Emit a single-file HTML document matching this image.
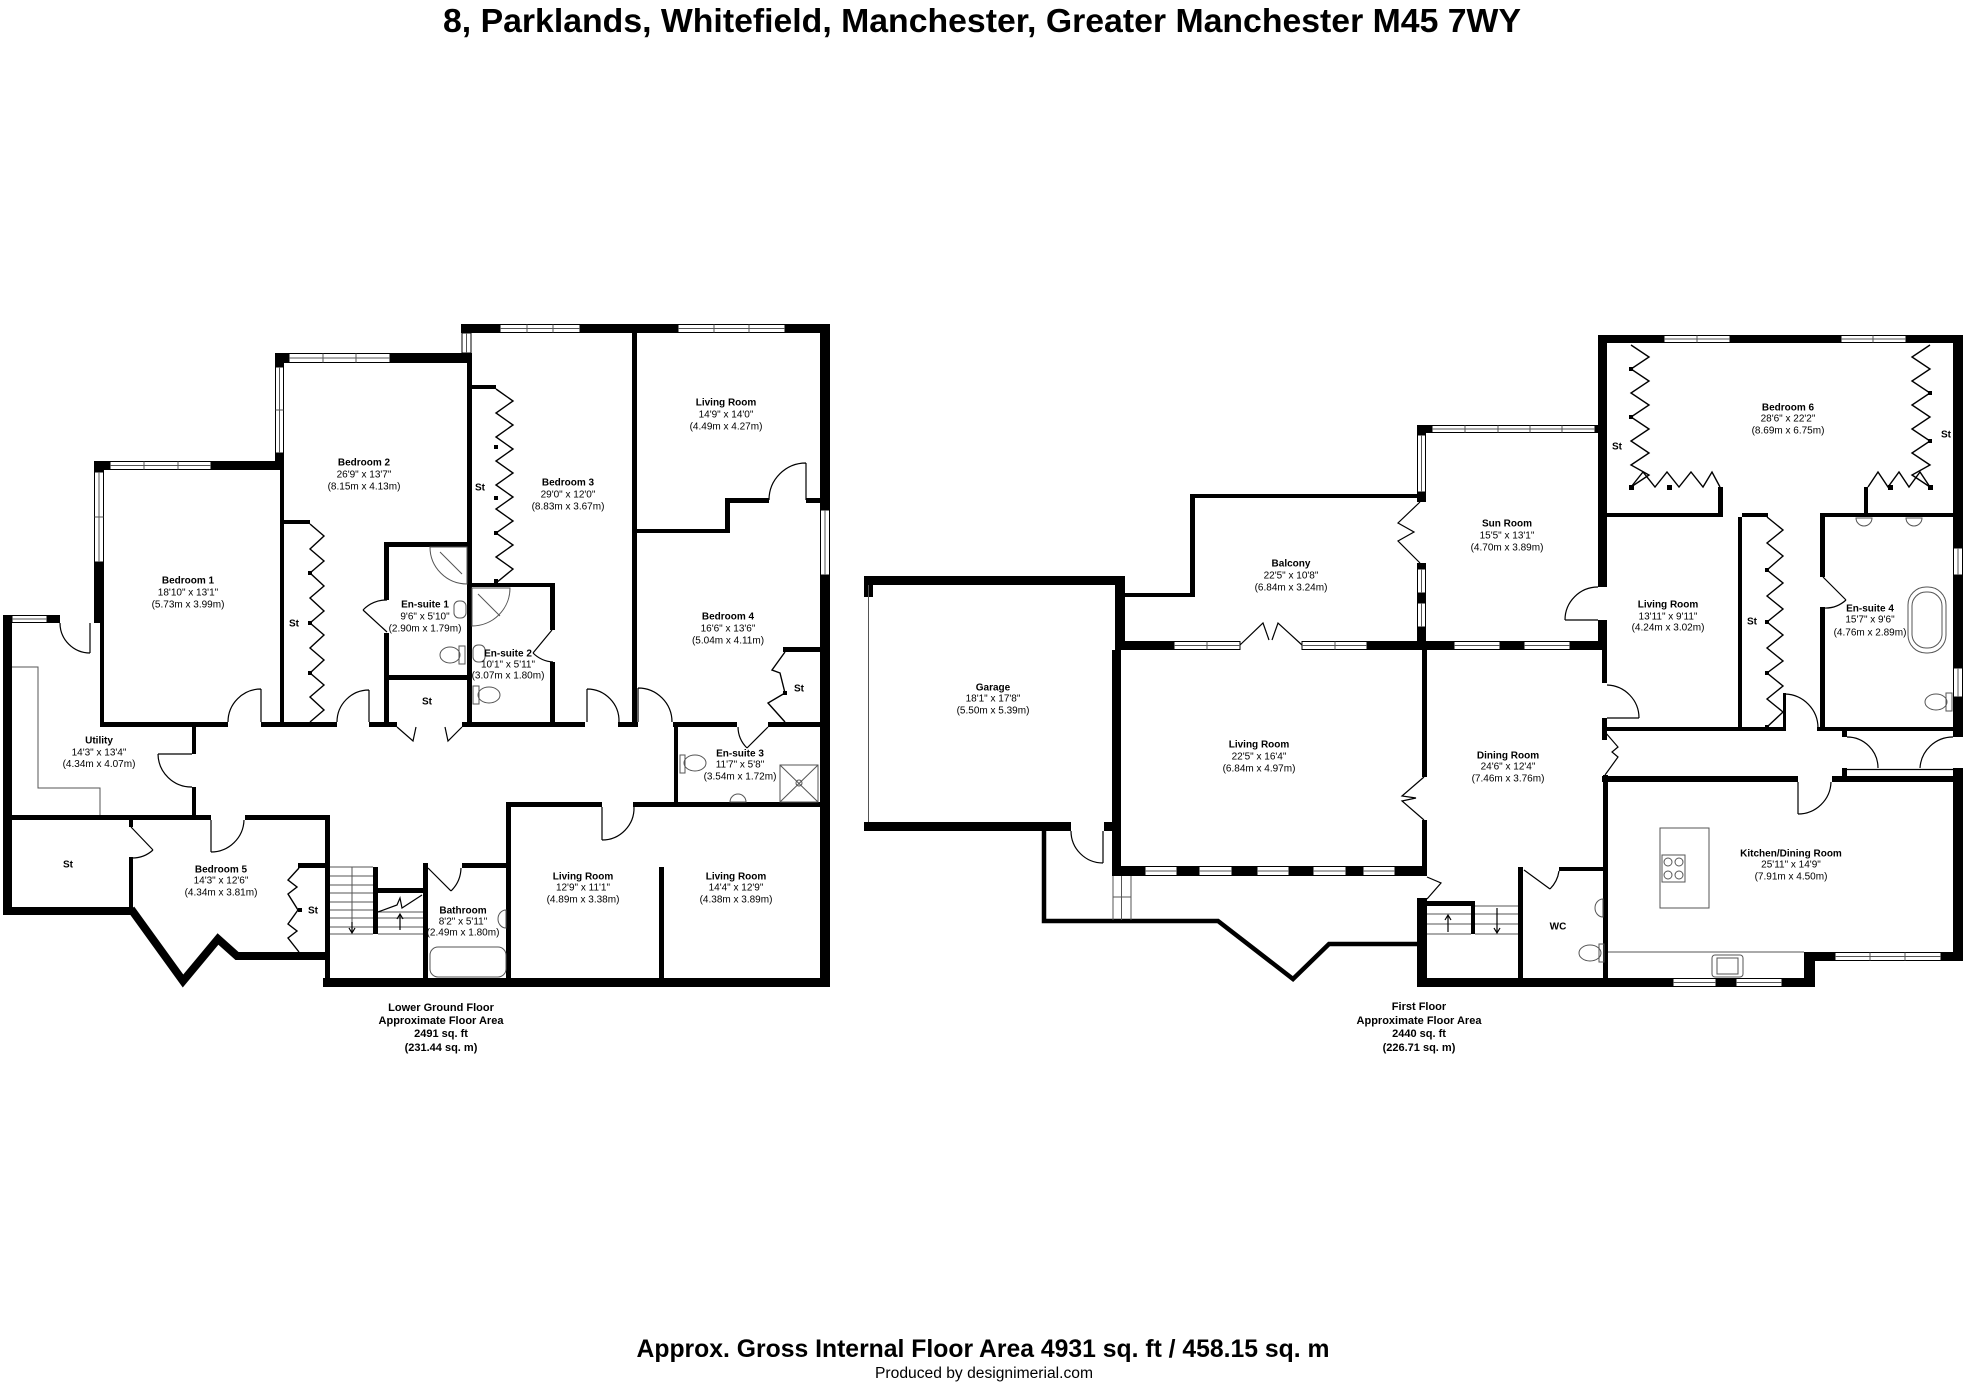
<!DOCTYPE html>
<html><head><meta charset="utf-8"><style>
html,body{margin:0;padding:0;background:#fff;}
svg{display:block}
.k{fill:#000}
.w{fill:#fff;stroke:#000;stroke-width:1}
.t{fill:none;stroke:#000;stroke-width:1.2}
.g{fill:none;stroke:#555;stroke-width:1}
.p{fill:none;stroke:#000;stroke-width:1.4}
text{font-family:"Liberation Sans",Arial,sans-serif;fill:#000}
.n{font-weight:bold;font-size:10px;text-anchor:middle}
.d{font-size:10px;text-anchor:middle}
.f{font-weight:bold;font-size:11px;text-anchor:middle}
</style></head><body>
<svg width="1968" height="1384" viewBox="0 0 1968 1384" xmlns="http://www.w3.org/2000/svg">
<rect x="0" y="0" width="1968" height="1384" fill="#fff"/>

<!-- Title -->
<text x="982" y="32" font-weight="bold" font-size="33.5" text-anchor="middle" textLength="1078" lengthAdjust="spacingAndGlyphs">8, Parklands, Whitefield, Manchester, Greater Manchester M45 7WY</text>

<!-- ============ LOWER GROUND FLOOR ============ -->
<g>
<rect class="k" x="461" y="324" width="369" height="9"/>
<rect class="k" x="275" y="353" width="197" height="10"/>
<rect class="k" x="275" y="353" width="9" height="117"/>
<rect class="k" x="94" y="461" width="190" height="9"/>
<rect class="k" x="94" y="461" width="10" height="162"/>
<rect class="k" x="100" y="623" width="4" height="104"/>
<rect class="k" x="3" y="615" width="57" height="8"/>
<rect class="k" x="3" y="615" width="9" height="300"/>
<rect class="k" x="3" y="815" width="208" height="5"/>
<rect class="k" x="245" y="815" width="85" height="5"/>
<rect class="k" x="192" y="722" width="4" height="32"/>
<rect class="k" x="192" y="787" width="4" height="28"/>
<rect class="k" x="100" y="722" width="128" height="5"/>
<rect class="k" x="261" y="722" width="76" height="5"/>
<rect class="k" x="369" y="722" width="28" height="5"/>
<rect class="k" x="462" y="722" width="123" height="5"/>
<rect class="k" x="618" y="722" width="20" height="5"/>
<rect class="k" x="673" y="722" width="64" height="5"/>
<rect class="k" x="768" y="722" width="54" height="5"/>
<rect class="k" x="280" y="470" width="4" height="252"/>
<rect class="k" x="284" y="520" width="26" height="4"/>
<rect class="k" x="384" y="542" width="5" height="58"/>
<rect class="k" x="384" y="633" width="5" height="89"/>
<rect class="k" x="384" y="542" width="86" height="5"/>
<rect class="k" x="388" y="675" width="79" height="5"/>
<rect class="k" x="467" y="363" width="5" height="359"/>
<rect class="k" x="472" y="385" width="24" height="4"/>
<rect class="k" x="470" y="583" width="85" height="4"/>
<rect class="k" x="550" y="583" width="5" height="47"/>
<rect class="k" x="550" y="662" width="5" height="60"/>
<rect class="k" x="632" y="333" width="5" height="389"/>
<rect class="k" x="632" y="529" width="98" height="4"/>
<rect class="k" x="725" y="498" width="5" height="35"/>
<rect class="k" x="725" y="498" width="44" height="5"/>
<rect class="k" x="806" y="498" width="16" height="5"/>
<rect class="k" x="820" y="324" width="10" height="663"/>
<rect class="k" x="783" y="647" width="39" height="5"/>
<rect class="k" x="674" y="722" width="4" height="81"/>
<rect class="k" x="506" y="802" width="96" height="5"/>
<rect class="k" x="633" y="802" width="189" height="5"/>
<rect class="k" x="506" y="802" width="5" height="185"/>
<rect class="k" x="659" y="867" width="5" height="113"/>
<rect class="k" x="323" y="978" width="507" height="9"/>
<rect class="k" x="423" y="863" width="5" height="120"/>
<rect class="k" x="462" y="863" width="45" height="5"/>
<rect class="k" x="325" y="815" width="5" height="172"/>
<rect class="k" x="373" y="867" width="5" height="67"/>
<rect class="k" x="378" y="888" width="45" height="5"/>
<rect class="k" x="298" y="863" width="27" height="5"/>
<rect class="k" x="3" y="907" width="130" height="8"/>
<rect class="k" x="129" y="820" width="4" height="7"/>
<rect class="k" x="129" y="857" width="4" height="50"/>
<polyline points="131,909 183,981 218,939 237,956 328,956" fill="none" stroke="#000" stroke-width="8" stroke-linejoin="miter"/>

<rect class="w" x="500" y="324.5" width="80" height="8"/><path class="g" d="M500 328.5H580M527 324.5V332.5M553 324.5V332.5"/>
<rect class="w" x="678" y="324.5" width="107" height="8"/><path class="g" d="M678 328.5H785M714 324.5V332.5M749 324.5V332.5"/>
<rect class="w" x="289" y="353.5" width="101" height="9"/><path class="g" d="M289 358H390M323 353.5V362.5M356 353.5V362.5"/>
<rect class="w" x="110" y="461.5" width="101" height="8"/><path class="g" d="M110 465.5H211M144 461.5V469.5M178 461.5V469.5"/>
<rect class="w" x="12" y="615.5" width="35" height="7"/><path class="g" d="M12 619H47"/>
<rect class="w" x="462" y="333" width="9" height="20"/><path class="g" d="M466.5 333V353"/>
<rect class="w" x="275.5" y="367" width="8" height="86"/><path class="g" d="M279.5 367V453M275.5 410H283.5"/>
<rect class="w" x="94.5" y="472" width="9" height="90"/><path class="g" d="M99 472V562M94.5 517H103.5"/>
<rect class="w" x="820.5" y="510" width="9" height="65"/><path class="g" d="M825 510V575"/>

<path class="t" d="M90 623V653M60 623A30 30 0 0 0 90 653"/>
<path class="t" d="M192 754H158M158 754A33.5 33.5 0 0 0 192 787"/>
<path class="t" d="M211 820V852M211 852A33 33 0 0 0 244 820"/>
<path class="t" d="M131 827L153 850M153 850A31 31 0 0 1 131 858"/>
<path class="t" d="M261 722V689M261 689A33 33 0 0 0 228 722"/>
<path class="t" d="M369 722V690M369 690A32 32 0 0 0 337 722"/>
<path class="t" d="M587 722V689M587 689A32 32 0 0 1 619 722"/>
<path class="t" d="M638 722V688M638 688A34 34 0 0 1 672 722"/>
<path class="t" d="M768 727L747 748M747 748A30 30 0 0 1 738 727"/>
<path class="t" d="M602 807V840M602 840A32 32 0 0 0 634 807"/>
<path class="t" d="M428 868L451 891M451 891A33 33 0 0 0 461 868"/>
<path class="t" d="M387 632L363 610M363 610A32 32 0 0 1 387 600"/>
<path class="t" d="M552 630L533 653M533 653A31 31 0 0 0 553 662"/>
<path class="t" d="M806 500V463M806 463A37 37 0 0 0 769 500"/>
<path class="t" d="M397 727L413 741L416 727M445 727L448 741L462 727"/>

<polyline class="p" points="496,389 513,401 496,413 513,425 496,437 513,449 496,461 513,473 496,485 513,497 496,509 513,521 496,533 513,545 496,557 513,569 496,583"/>
<polyline class="p" points="310,524 324,536 310,549 324,561 310,573 324,586 310,598 324,611 310,623 324,635 310,648 324,660 310,673 324,685 310,697 324,710 310,722"/>
<polyline class="p" points="785,652 772,670 780,673 785,693 768,703 785,722"/>
<polyline class="p" points="299,868 288,880 297,887 288,894 298,910 288,924 297,931 288,938 299,952"/>
<rect class="k" x="494" y="445" width="4" height="4"/><rect class="k" x="494" y="496" width="4" height="4"/><rect class="k" x="494" y="531" width="4" height="4"/><rect class="k" x="494" y="579" width="4" height="4"/>
<rect class="k" x="308" y="571" width="4" height="4"/><rect class="k" x="308" y="621" width="4" height="4"/><rect class="k" x="308" y="671" width="4" height="4"/>
<rect class="k" x="783" y="691" width="4" height="4"/><rect class="k" x="298" y="908" width="4" height="4"/>

<path class="g" d="M330 867H373M330 876H373M330 885H373M330 893H373M330 902H373M330 910H373M330 918H373M330 927H373M330 934H373M352 867V934M378 912H423M378 918H423M378 927H423M378 934H423"/>
<path class="t" d="M378 912L397 905L400 898L402 908L422 895"/>
<path class="t" d="M352 922V932M349 928L352 933L355 928M400 930V915M397 919L400 914L403 919"/>

<path class="g" d="M430 547A37 37 0 0 0 467 584V547ZM440 552L462 574"/>
<path class="g" d="M510 588A38 38 0 0 1 472 626V588ZM478 594L500 616"/>
<ellipse class="g" cx="450" cy="655" rx="10" ry="8"/><rect class="g" x="459" y="646" width="6" height="18"/>
<rect class="g" x="454" y="601" width="12" height="17" rx="5"/>
<rect class="g" x="473" y="645" width="12" height="17" rx="5"/>
<ellipse class="g" cx="489" cy="695" rx="11" ry="8"/><rect class="g" x="473" y="686" width="6" height="18"/>
<ellipse class="g" cx="695" cy="763" rx="11" ry="8"/><rect class="g" x="680" y="755" width="5" height="18"/>
<rect class="g" x="780" y="765" width="38" height="37"/><path class="g" d="M780 765L818 802M818 765L780 802"/><circle class="g" cx="799" cy="783" r="3"/>
<path class="g" d="M730 802A8 8 0 0 1 746 802Z"/>
<rect class="g" x="430" y="947" width="76" height="30" rx="8"/>
<path class="g" d="M506 910A8 9 0 0 0 506 928Z"/>
<path class="g" d="M12 667H38V788H100V815"/>
</g>

<text class="n" x="726" y="405.5">Living Room</text><text class="d" x="726" y="417.5">14'9" x 14'0"</text><text class="d" x="726" y="429.5">(4.49m x 4.27m)</text>
<text class="n" x="364" y="465.5">Bedroom 2</text><text class="d" x="364" y="477.5">26'9" x 13'7"</text><text class="d" x="364" y="489.5">(8.15m x 4.13m)</text>
<text class="n" x="568" y="485.5">Bedroom 3</text><text class="d" x="568" y="497.5">29'0" x 12'0"</text><text class="d" x="568" y="509.5">(8.83m x 3.67m)</text>
<text class="n" x="188" y="583.5">Bedroom 1</text><text class="d" x="188" y="595.5">18'10" x 13'1"</text><text class="d" x="188" y="607.5">(5.73m x 3.99m)</text>
<text class="n" x="425" y="607.5">En-suite 1</text><text class="d" x="425" y="619.5">9'6" x 5'10"</text><text class="d" x="425" y="631.5">(2.90m x 1.79m)</text>
<text class="n" x="508" y="656.5">En-suite 2</text><text class="d" x="508" y="667.5">10'1" x 5'11"</text><text class="d" x="508" y="678.5">(3.07m x 1.80m)</text>
<text class="n" x="728" y="619.5">Bedroom 4</text><text class="d" x="728" y="631.5">16'6" x 13'6"</text><text class="d" x="728" y="643.5">(5.04m x 4.11m)</text>
<text class="n" x="99" y="743.5">Utility</text><text class="d" x="99" y="755.5">14'3" x 13'4"</text><text class="d" x="99" y="767">(4.34m x 4.07m)</text>
<text class="n" x="740" y="756.5">En-suite 3</text><text class="d" x="740" y="767.5">11'7" x 5'8"</text><text class="d" x="740" y="779.5">(3.54m x 1.72m)</text>
<text class="n" x="221" y="872.5">Bedroom 5</text><text class="d" x="221" y="883.5">14'3" x 12'6"</text><text class="d" x="221" y="895.5">(4.34m x 3.81m)</text>
<text class="n" x="463" y="913.5">Bathroom</text><text class="d" x="463" y="924.5">8'2" x 5'11"</text><text class="d" x="463" y="935.5">(2.49m x 1.80m)</text>
<text class="n" x="583" y="879.5">Living Room</text><text class="d" x="583" y="890.5">12'9" x 11'1"</text><text class="d" x="583" y="902.5">(4.89m x 3.38m)</text>
<text class="n" x="736" y="879.5">Living Room</text><text class="d" x="736" y="890.5">14'4" x 12'9"</text><text class="d" x="736" y="902.5">(4.38m x 3.89m)</text>
<text class="n" x="294" y="626.5">St</text><text class="n" x="480" y="490.5">St</text><text class="n" x="427" y="704.5">St</text><text class="n" x="799" y="691.5">St</text><text class="n" x="68" y="867.5">St</text><text class="n" x="313" y="913.5">St</text>
<text class="f" x="441" y="1011">Lower Ground Floor</text>
<text class="f" x="441" y="1024">Approximate Floor Area</text>
<text class="f" x="441" y="1037">2491 sq. ft</text>
<text class="f" x="441" y="1051">(231.44 sq. m)</text>

<!-- ============ FIRST FLOOR ============ -->
<g>
<rect class="k" x="864" y="576" width="261" height="9"/>
<rect class="k" x="864" y="585" width="9" height="12"/>
<rect class="k" x="1115" y="576" width="10" height="74"/>
<rect class="k" x="1112" y="650" width="9" height="226"/>
<rect class="k" x="864" y="822" width="207" height="9"/>
<rect class="k" x="1104" y="822" width="12" height="9"/>
<rect class="k" x="1125" y="593" width="70" height="4"/>
<rect class="k" x="1190" y="494" width="5" height="103"/>
<rect class="k" x="1190" y="494" width="235" height="4"/>
<rect class="k" x="1417" y="425" width="9" height="77"/>
<rect class="k" x="1417" y="563" width="9" height="87"/>
<rect class="k" x="1417" y="425" width="190" height="8"/>
<rect class="k" x="1598" y="335" width="9" height="252"/>
<rect class="k" x="1598" y="620" width="9" height="30"/>
<rect class="k" x="1602" y="650" width="5" height="33"/>
<rect class="k" x="1602" y="718" width="5" height="22"/>
<rect class="k" x="1603" y="775" width="5" height="212"/>
<rect class="k" x="1120" y="641" width="120" height="9"/>
<rect class="k" x="1302" y="641" width="298" height="9"/>
<rect class="k" x="1422" y="650" width="5" height="127"/>
<rect class="k" x="1422" y="820" width="5" height="56"/>
<rect class="k" x="1112" y="866" width="315" height="10"/>
<polyline points="1044,829 1044,921 1218,921 1293,979 1329,944 1419,944" fill="none" stroke="#000" stroke-width="4.5" stroke-linejoin="miter"/>
<rect class="k" x="1417" y="898" width="10" height="89"/>
<rect class="k" x="1425" y="901" width="50" height="5"/>
<rect class="k" x="1471" y="901" width="4" height="33"/>
<rect class="k" x="1518" y="867" width="5" height="120"/>
<rect class="k" x="1559" y="867" width="49" height="4"/>
<rect class="k" x="1417" y="978" width="398" height="9"/>
<rect class="k" x="1804" y="952" width="11" height="35"/>
<rect class="k" x="1804" y="952" width="159" height="9"/>
<rect class="k" x="1602" y="776" width="196" height="6"/>
<rect class="k" x="1832" y="776" width="131" height="6"/>
<rect class="k" x="1953" y="335" width="10" height="402"/>
<rect class="k" x="1953" y="768" width="10" height="193"/>
<rect class="k" x="1598" y="335" width="365" height="8"/>
<rect class="k" x="1602" y="727" width="183" height="4"/>
<rect class="k" x="1817" y="727" width="136" height="4"/>
<rect class="k" x="1783" y="693" width="3" height="38"/>
<rect class="k" x="1605" y="513" width="118" height="4"/>
<rect class="k" x="1718" y="487" width="5" height="30"/>
<rect class="k" x="1864" y="487" width="4" height="30"/>
<rect class="k" x="1820" y="513" width="133" height="4"/>
<rect class="k" x="1738" y="517" width="4" height="211"/>
<rect class="k" x="1742" y="513" width="26" height="4"/>
<rect class="k" x="1820" y="513" width="5" height="64"/>
<rect class="k" x="1820" y="607" width="5" height="124"/>
<rect class="k" x="1842" y="730" width="5" height="7"/>
<rect class="k" x="1842" y="768" width="5" height="9"/>
<path class="t" d="M1847 769.5H1953"/>

<rect class="w" x="1432" y="425.5" width="163" height="7"/><path class="g" d="M1432 429H1595M1465 425.5V432.5M1498 425.5V432.5M1530 425.5V432.5M1562 425.5V432.5"/>
<rect class="w" x="1664" y="335.5" width="66" height="7"/><path class="g" d="M1664 339H1730M1697 335.5V342.5"/>
<rect class="w" x="1841" y="335.5" width="65" height="7"/><path class="g" d="M1841 339H1906M1873 335.5V342.5"/>
<rect class="w" x="1174" y="641.5" width="66" height="8"/><path class="g" d="M1174 645.5H1240M1207 641.5V649.5"/>
<rect class="w" x="1302" y="641.5" width="65" height="8"/><path class="g" d="M1302 645.5H1367M1335 641.5V649.5"/>
<rect class="w" x="1454" y="641.5" width="46" height="8"/><path class="g" d="M1454 645.5H1500"/>
<rect class="w" x="1524" y="641.5" width="46" height="8"/><path class="g" d="M1524 645.5H1570"/>
<rect class="w" x="1145" y="866.5" width="32" height="9"/><path class="g" d="M1145 871H1177"/>
<rect class="w" x="1199" y="866.5" width="33" height="9"/><path class="g" d="M1199 871H1232"/>
<rect class="w" x="1257" y="866.5" width="32" height="9"/><path class="g" d="M1257 871H1289"/>
<rect class="w" x="1313" y="866.5" width="33" height="9"/><path class="g" d="M1313 871H1346"/>
<rect class="w" x="1363" y="866.5" width="32" height="9"/><path class="g" d="M1363 871H1395"/>
<rect class="w" x="1673" y="978.5" width="43" height="8"/><path class="g" d="M1673 982.5H1716"/>
<rect class="w" x="1736" y="978.5" width="46" height="8"/><path class="g" d="M1736 982.5H1782"/>
<rect class="w" x="1835" y="952.5" width="106" height="8"/><path class="g" d="M1835 956.5H1941M1870 952.5V960.5M1905 952.5V960.5"/>
<rect class="w" x="1417.5" y="435" width="8" height="57"/><path class="g" d="M1421.5 435V492"/>
<rect class="w" x="1417.5" y="569" width="8" height="24"/><path class="g" d="M1421.5 569V593"/>
<rect class="w" x="1417.5" y="603" width="8" height="24"/><path class="g" d="M1421.5 603V627"/>
<rect class="w" x="1953.5" y="548" width="9" height="27"/><path class="g" d="M1958 548V575"/>
<rect class="w" x="1953.5" y="668" width="9" height="29"/><path class="g" d="M1958 668V697"/>

<path class="t" d="M1103 831V863M1071 831A32 32 0 0 0 1103 863"/>
<path class="t" d="M1598 620H1565M1565 620A33 33 0 0 1 1598 587"/>
<path class="t" d="M1607 718H1639M1639 718A33 33 0 0 0 1607 685"/>
<path class="t" d="M1785 694A34 34 0 0 1 1818 728"/>
<path class="t" d="M1823 577L1846 600M1846 600A31 31 0 0 1 1823 608"/>
<path class="t" d="M1847 737A31 31 0 0 1 1878 768"/>
<path class="t" d="M1953 737A33 33 0 0 0 1920 768"/>
<path class="t" d="M1798 782V814M1798 814A33 33 0 0 0 1831 782"/>
<path class="t" d="M1524 870L1550 889M1550 889A32 32 0 0 0 1559 871"/>
<path class="t" d="M1240 645L1263 623L1269 640M1272 640L1278 623L1302 645"/>
<path class="t" d="M1420 502L1398 523L1414 532L1398 541L1420 563"/>
<path class="t" d="M1424 777L1402 796L1416 798L1402 801L1424 820"/>
<path class="t" d="M1427 877L1441 883L1427 899"/>
<path class="t" d="M1605 732L1618 747L1612 752L1618 757L1605 775"/>
<path class="g" d="M1113 876V920M1121.5 876V920M1131 876V920M1113 897H1131"/>
<path class="g" d="M868.5 585V822"/>

<polyline class="p" points="1631,345 1649,357 1631,369 1649,381 1631,393 1649,405 1631,417 1649,429 1631,441 1649,453 1631,465 1649,475 1631,487"/>
<polyline class="p" points="1631,487 1643,472 1655,487 1667,472 1679,487 1691,472 1703,487 1712,472 1720,487"/>
<polyline class="p" points="1930,345 1912,357 1930,369 1912,381 1930,393 1912,405 1930,417 1912,429 1930,441 1912,453 1930,465 1912,475 1930,487"/>
<polyline class="p" points="1868,487 1878,472 1888,487 1899,472 1909,487 1920,472 1930,487"/>
<polyline class="p" points="1767,517 1783,530 1767,543 1783,556 1767,570 1783,583 1767,596 1783,609 1767,622 1783,635 1767,648 1783,661 1767,673 1783,686 1767,699 1783,712 1767,727"/>
<rect class="k" x="1629" y="485" width="5" height="5"/><rect class="k" x="1667" y="485" width="5" height="5"/><rect class="k" x="1928" y="485" width="5" height="5"/><rect class="k" x="1888" y="485" width="5" height="5"/>
<rect class="k" x="1629" y="367" width="4" height="4"/><rect class="k" x="1629" y="415" width="4" height="4"/><rect class="k" x="1928" y="391" width="4" height="4"/><rect class="k" x="1928" y="439" width="4" height="4"/>
<rect class="k" x="1765" y="568" width="4" height="4"/><rect class="k" x="1765" y="620" width="4" height="4"/><rect class="k" x="1765" y="671" width="4" height="4"/><rect class="k" x="1765" y="725" width="4" height="4"/>

<path class="g" d="M1427 914H1471M1427 924H1471M1427 934H1471M1475 906H1518M1475 914H1518M1475 924H1518M1475 934H1518"/>
<path class="t" d="M1448 932V916M1445 920L1448 915L1451 920M1497 908V932M1494 928L1497 933L1500 928"/>

<rect class="g" x="1660" y="828" width="49" height="80"/>
<rect class="g" x="1662" y="855" width="23" height="27"/>
<circle class="g" cx="1668" cy="862" r="4"/><circle class="g" cx="1679" cy="862" r="4"/><circle class="g" cx="1668" cy="875" r="4"/><circle class="g" cx="1679" cy="875" r="4"/>
<path class="g" d="M1608 952H1804"/>
<rect class="g" x="1712" y="955" width="31" height="22" rx="3"/><rect class="g" x="1717" y="958" width="21" height="16"/>
<ellipse class="g" cx="1590" cy="953" rx="11" ry="8"/><rect class="g" x="1599" y="944" width="5" height="18"/>
<path class="g" d="M1603 899A8 9 0 0 0 1603 917Z"/>
<rect class="g" x="1908" y="587" width="38" height="66" rx="18"/><rect class="g" x="1912" y="592" width="30" height="56" rx="14"/>
<path class="g" d="M1856 518A8 8 0 0 0 1872 518ZM1906 518A8 8 0 0 0 1922 518Z"/>
<ellipse class="g" cx="1936" cy="702" rx="11" ry="8"/><rect class="g" x="1946" y="693" width="6" height="18"/>
</g>

<text class="n" x="1788" y="410.5">Bedroom 6</text><text class="d" x="1788" y="421.5">28'6" x 22'2"</text><text class="d" x="1788" y="433.5">(8.69m x 6.75m)</text>
<text class="n" x="1507" y="526.5">Sun Room</text><text class="d" x="1507" y="538.5">15'5" x 13'1"</text><text class="d" x="1507" y="550.5">(4.70m x 3.89m)</text>
<text class="n" x="1291" y="566.5">Balcony</text><text class="d" x="1291" y="578.5">22'5" x 10'8"</text><text class="d" x="1291" y="590.5">(6.84m x 3.24m)</text>
<text class="n" x="1668" y="607.5">Living Room</text><text class="d" x="1668" y="619.5">13'11" x 9'11"</text><text class="d" x="1668" y="630.5">(4.24m x 3.02m)</text>
<text class="n" x="1870" y="611.5">En-suite 4</text><text class="d" x="1870" y="622.5">15'7" x 9'6"</text><text class="d" x="1870" y="635.5">(4.76m x 2.89m)</text>
<text class="n" x="993" y="690.5">Garage</text><text class="d" x="993" y="701.5">18'1" x 17'8"</text><text class="d" x="993" y="713.5">(5.50m x 5.39m)</text>
<text class="n" x="1259" y="747.5">Living Room</text><text class="d" x="1259" y="759.5">22'5" x 16'4"</text><text class="d" x="1259" y="771.5">(6.84m x 4.97m)</text>
<text class="n" x="1508" y="758.5">Dining Room</text><text class="d" x="1508" y="769.5">24'6" x 12'4"</text><text class="d" x="1508" y="781.5">(7.46m x 3.76m)</text>
<text class="n" x="1791" y="856.5">Kitchen/Dining Room</text><text class="d" x="1791" y="867.5">25'11" x 14'9"</text><text class="d" x="1791" y="879.5">(7.91m x 4.50m)</text>
<text class="n" x="1558" y="929.5">WC</text>
<text class="n" x="1617" y="449.5">St</text><text class="n" x="1946" y="437.5">St</text><text class="n" x="1752" y="624.5">St</text>
<text class="f" x="1419" y="1010">First Floor</text>
<text class="f" x="1419" y="1024">Approximate Floor Area</text>
<text class="f" x="1419" y="1037">2440 sq. ft</text>
<text class="f" x="1419" y="1051">(226.71 sq. m)</text>

<text x="983" y="1357" font-weight="bold" font-size="25" text-anchor="middle" textLength="693" lengthAdjust="spacingAndGlyphs">Approx. Gross Internal Floor Area 4931 sq. ft / 458.15 sq. m</text>
<text x="984" y="1378" font-size="15.5" text-anchor="middle" textLength="218" lengthAdjust="spacingAndGlyphs">Produced by designimerial.com</text>
</svg>
</body></html>
